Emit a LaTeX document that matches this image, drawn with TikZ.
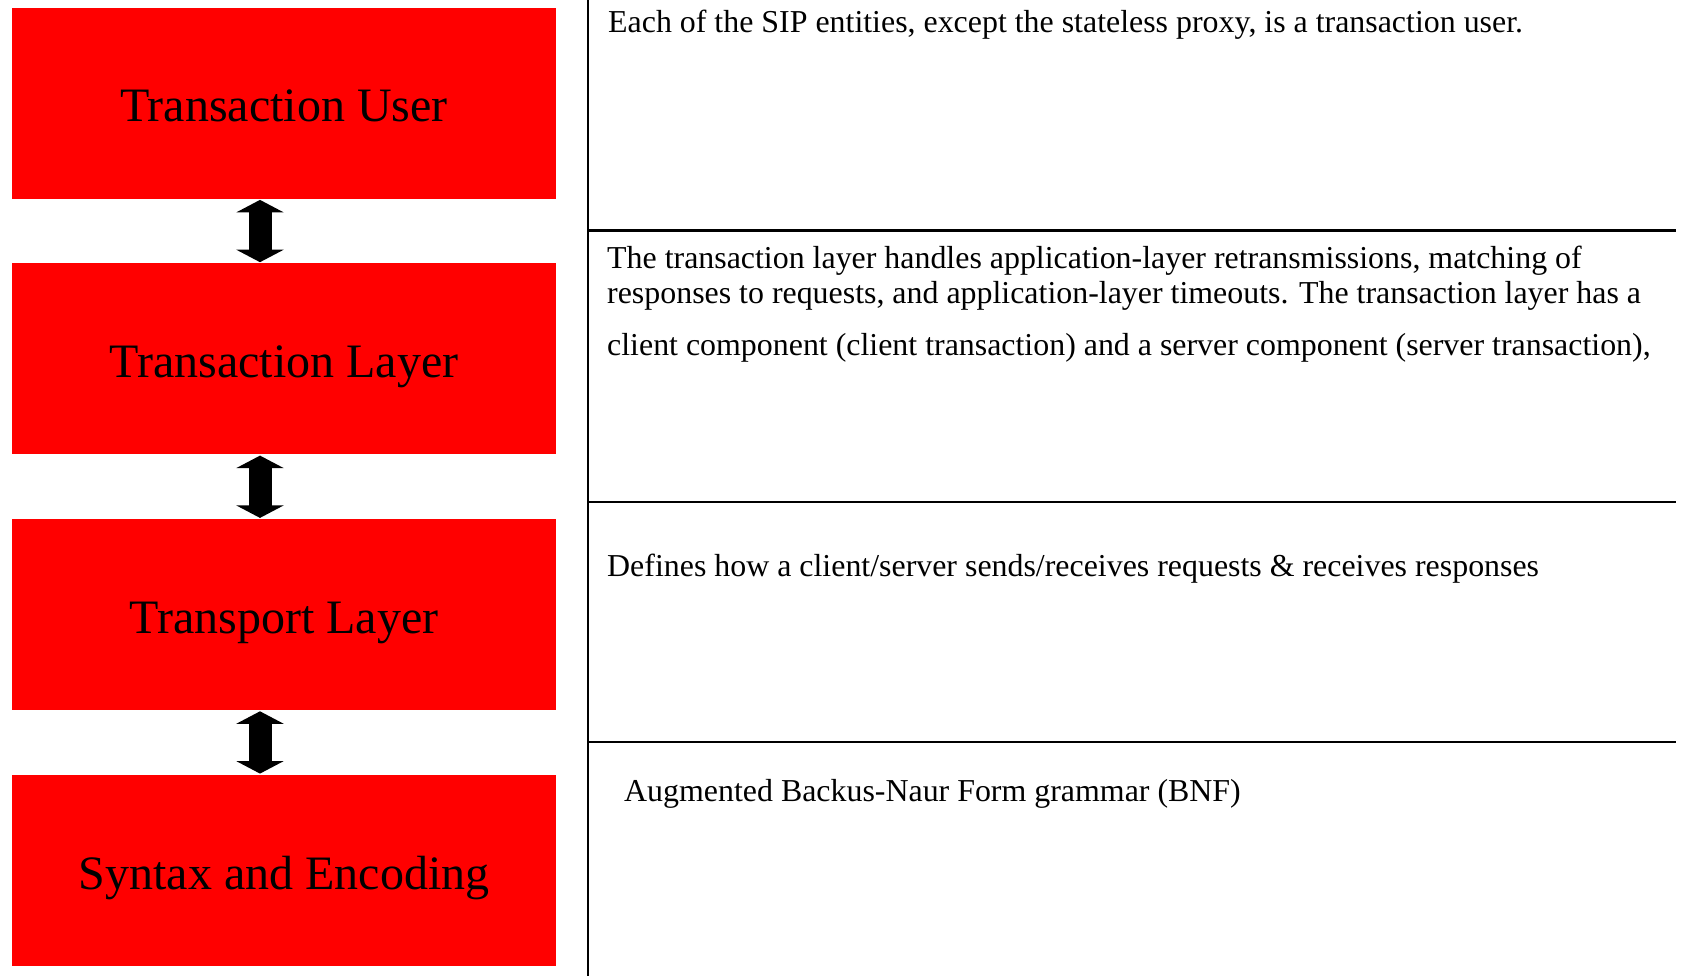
\documentclass[tikz,border=0pt]{standalone}
\usepackage{fontspec}
\setmainfont{Liberation Serif}
\usetikzlibrary{arrows.meta}
\begin{document}
\begin{tikzpicture}[x=1pt,y=-1pt,
  layer/.style={fill=red, minimum width=543.7pt, minimum height=191pt, inner sep=0pt,
    anchor=north west, text height=40pt, text depth=2.6pt, font=\fontsize{48}{58}\selectfont},
  desc/.style={anchor=base west, inner sep=0pt, font=\fontsize{31.9}{38}\selectfont},
  bigarrow/.style={line width=23pt, shorten <=1pt, shorten >=1pt,
    {Triangle[width=47pt,length=12.5pt]}-{Triangle[width=47pt,length=12.5pt]}},
  rule/.style={line width=2.4pt}]
\useasboundingbox (0,0) rectangle (1681,976);
% layer boxes
\node[layer] (tu) at (12,7.5)   {Transaction User};
\node[layer] (tl) at (12,263.2) {Transaction Layer};
\node[layer] (tp) at (12,518.9) {Transport Layer};
\node[layer] (se) at (12,774.6) {Syntax and Encoding};
% double arrows
\coordinate (ax) at (260,0);
\draw[bigarrow] (tu.south -| ax) -- (tl.north -| ax);
\draw[bigarrow] (tl.south -| ax) -- (tp.north -| ax);
\draw[bigarrow] (tp.south -| ax) -- (se.north -| ax);
% rules
\coordinate (vt) at (588,0);
\coordinate (vb) at (588,976);
\draw[rule] (vt) -- (vb);
\coordinate (h1a) at (588,230.7); \coordinate (h1b) at (1676,230.7);
\coordinate (h2a) at (588,501.7); \coordinate (h2b) at (1676,501.7);
\coordinate (h3a) at (588,741.8); \coordinate (h3b) at (1676,741.8);
\draw[rule] (h1a) -- (h1b);
\draw[rule] (h2a) -- (h2b);
\draw[rule] (h3a) -- (h3b);
% descriptions
\node[desc] (d1) at (608,33) {Each of the SIP entities, except the stateless proxy, is a transaction user.};
\node[desc] (d2a) at (607,268.3) {The transaction layer handles application-layer retransmissions, matching of};
\node[desc] (d2b) at (607,304) {responses to requests, and application-layer timeouts. The transaction layer has a};
\node[desc] (d2c) at (607,355) {client component (client transaction) and a server component (server transaction),};
\node[desc] (d3) at (607,576) {Defines how a client/server sends/receives requests \& receives responses};
\node[desc] (d4) at (624,801) {Augmented Backus-Naur Form grammar (BNF)};
\end{tikzpicture}
\end{document}
